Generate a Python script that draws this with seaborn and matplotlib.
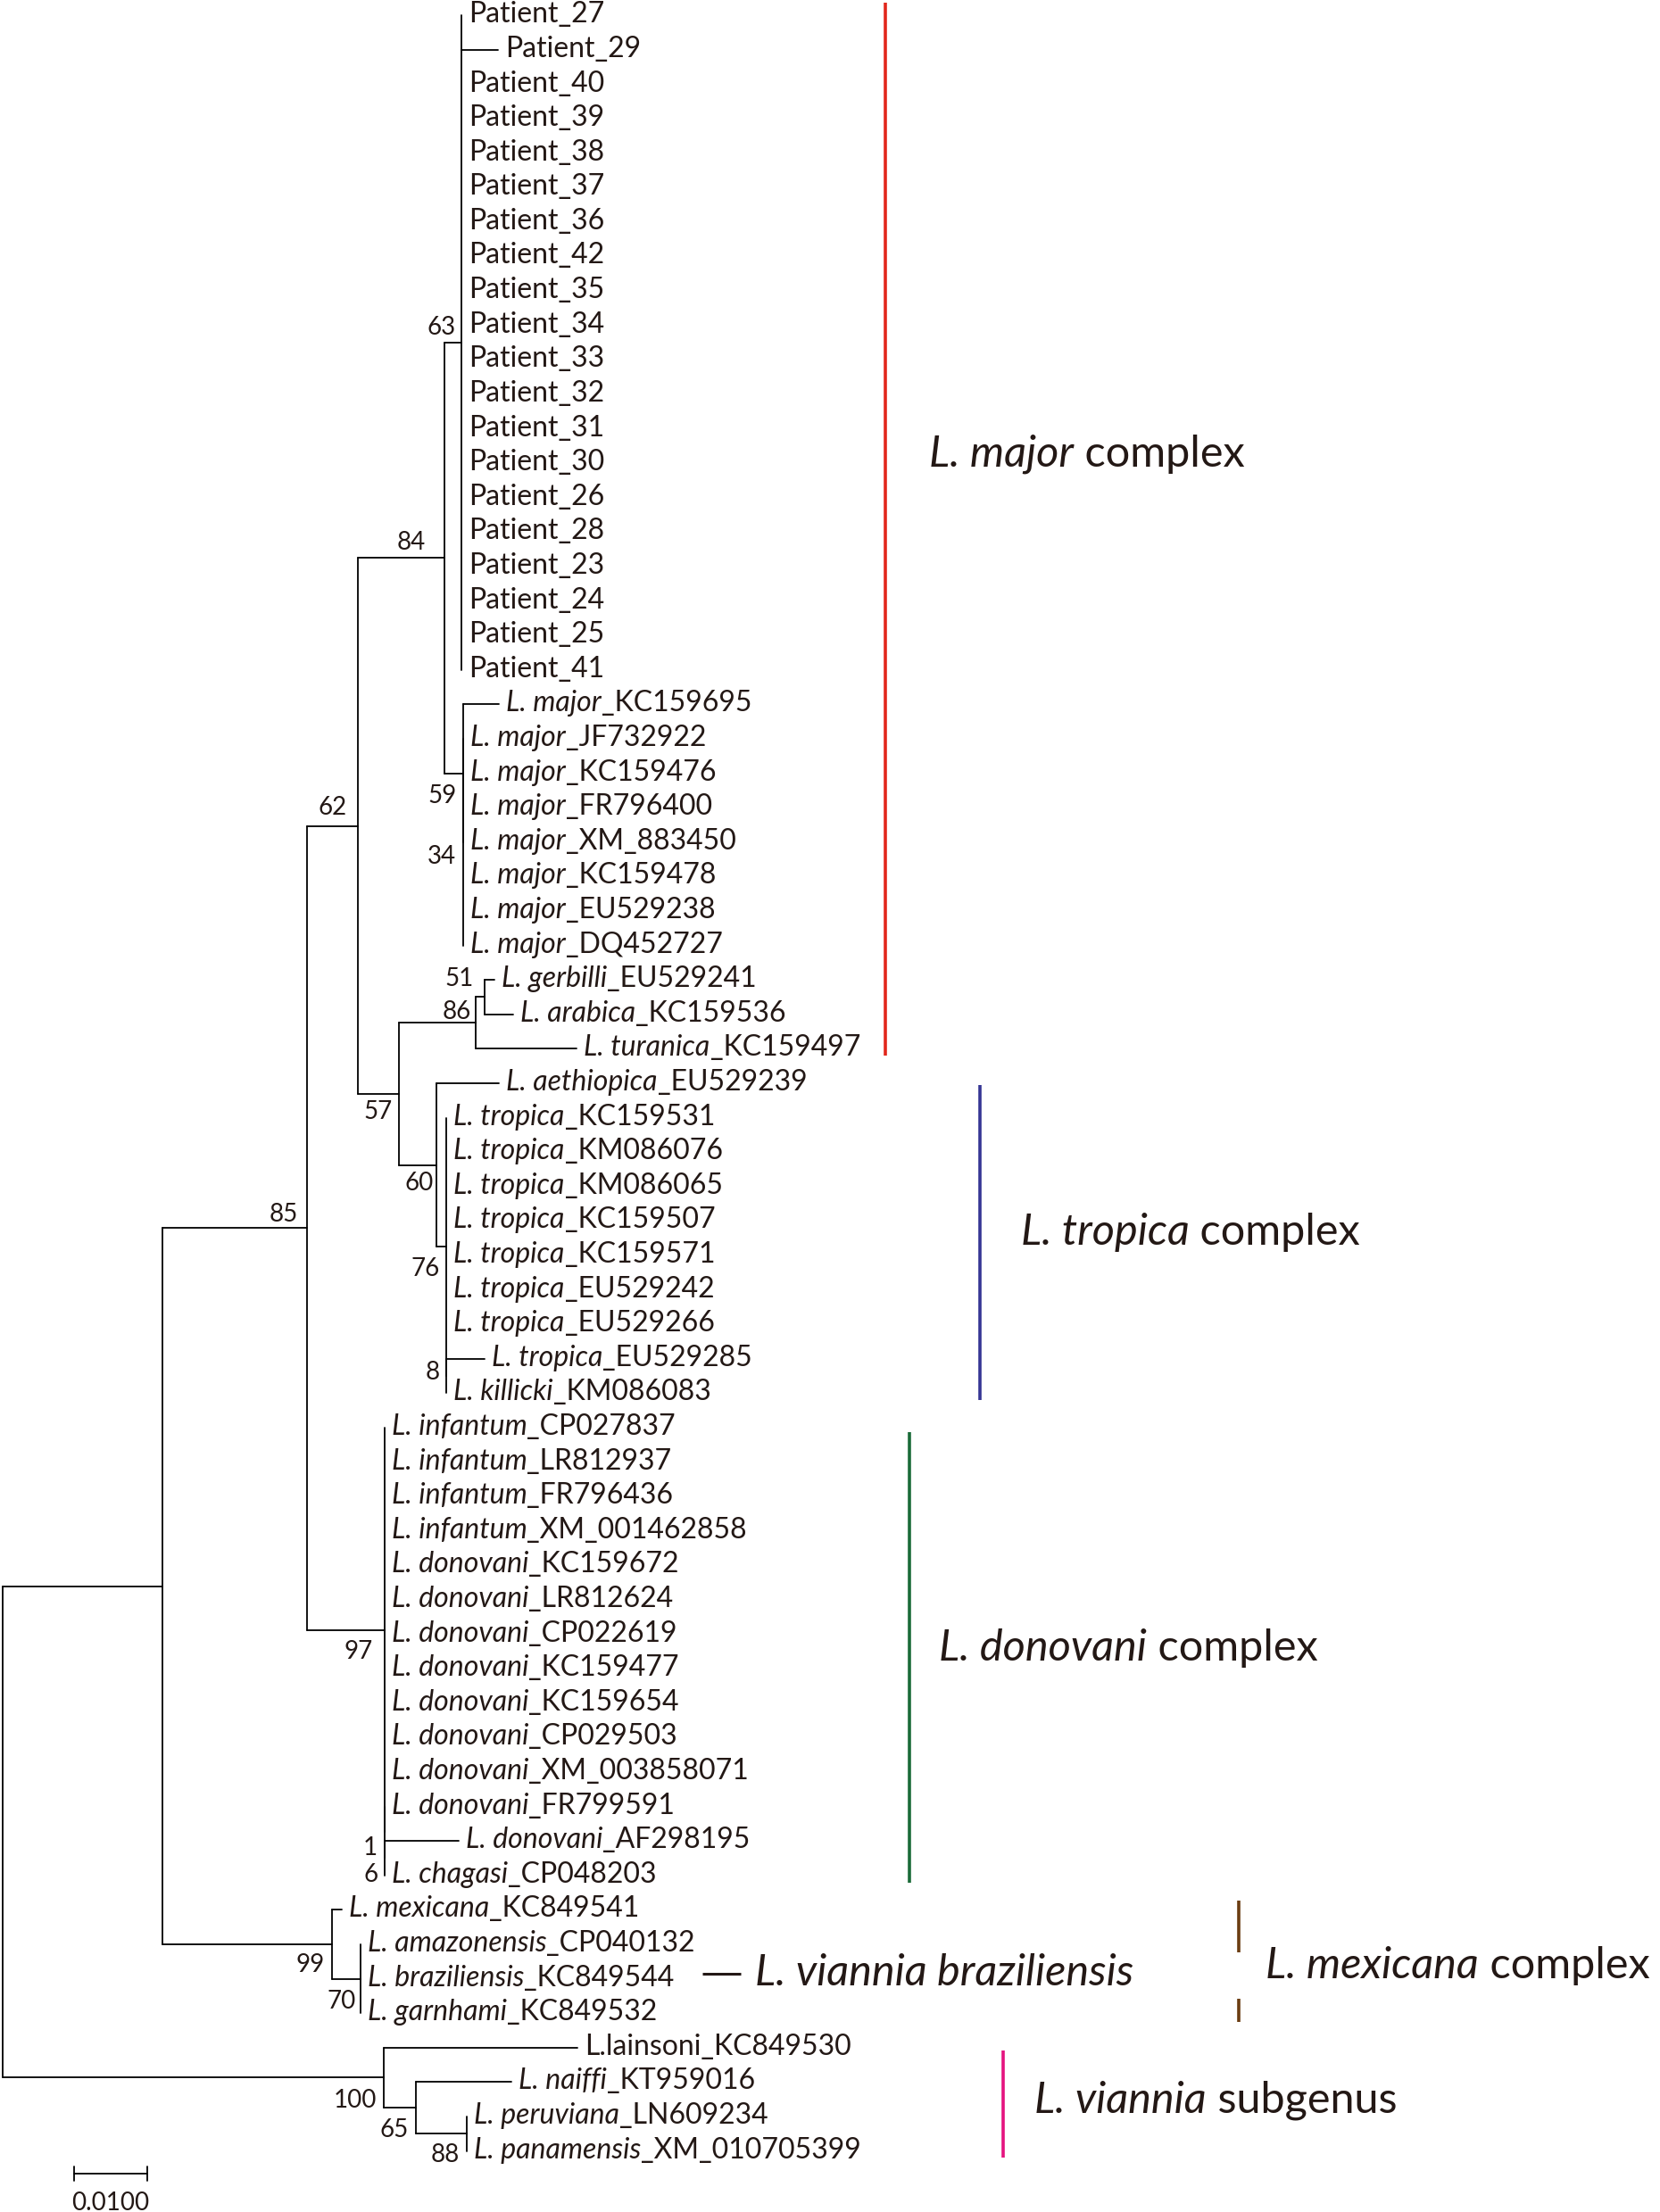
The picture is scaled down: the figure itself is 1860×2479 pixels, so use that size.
import numpy as np
import pandas as pd
import matplotlib
matplotlib.use("Agg")
import matplotlib.pyplot as plt
import seaborn as sns

# ---------------- data ----------------
tip_labels = [
    "Patient_27", "Patient_29", "Patient_40", "Patient_39", "Patient_38", "Patient_37",
    "Patient_36", "Patient_42", "Patient_35", "Patient_34", "Patient_33", "Patient_32",
    "Patient_31", "Patient_30", "Patient_26", "Patient_28", "Patient_23", "Patient_24",
    "Patient_25", "Patient_41",
    "L. major_KC159695", "L. major_JF732922", "L. major_KC159476", "L. major_FR796400",
    "L. major_XM_883450", "L. major_KC159478", "L. major_EU529238", "L. major_DQ452727",
    "L. gerbilli_EU529241", "L. arabica_KC159536", "L. turanica_KC159497",
    "L. aethiopica_EU529239", "L. tropica_KC159531", "L. tropica_KM086076",
    "L. tropica_KM086065", "L. tropica_KC159507", "L. tropica_KC159571",
    "L. tropica_EU529242", "L. tropica_EU529266", "L. tropica_EU529285", "L. killicki_KM086083",
    "L. infantum_CP027837", "L. infantum_LR812937", "L. infantum_FR796436",
    "L. infantum_XM_001462858", "L. donovani_KC159672", "L. donovani_LR812624",
    "L. donovani_CP022619", "L. donovani_KC159477", "L. donovani_KC159654",
    "L. donovani_CP029503", "L. donovani_XM_003858071", "L. donovani_FR799591",
    "L. donovani_AF298195", "L. chagasi_CP048203",
    "L. mexicana_KC849541", "L. amazonensis_CP040132", "L. braziliensis_KC849544",
    "L. garnhami_KC849532",
    "L.lainsoni_KC849530", "L. naiffi_KT959016", "L. peruviana_LN609234",
    "L. panamensis_XM_010705399",
]
tip_parent = (["n63"] * 20 + ["n59"] + ["n34"] * 7 + ["n51", "n51", "n86"] + ["n60"]
              + ["n76"] * 7 + ["n8", "n8"] + ["n97"] * 11 + ["nA1", "nA6", "nA6"]
              + ["n99"] + ["n70"] * 3 + ["n100", "n65", "n88", "n88"])
tip_length = ([0, 0.00503] + [0] * 18 + [0.00491] + [0] * 7
              + [0.00137, 0.00393, 0.01384] + [0.00865] + [0] * 7 + [0.00519, 0]
              + [0] * 11 + [0, 0.01017, 0] + [0.00134] + [0] * 3
              + [0.02660, 0.01314, 0, 0])

node_names = ["root", "nA", "n85", "n62", "n84", "n63", "n59", "n34", "n57", "n86", "n51",
              "n60", "n76", "n8", "n97", "nA1", "nA6", "n99", "n70", "n100", "n65", "n88"]
node_parent = [None, "root", "nA", "n85", "n62", "n84", "n84", "n59", "n62", "n57", "n86",
               "n57", "n60", "n76", "n85", "n97", "nA1", "nA", "n99", "root", "n100", "n65"]
node_length = [0, 0.02194, 0.01995, 0.00691, 0.01196, 0.00234, 0.00254, 0, 0.00571, 0.01058,
               0.00112, 0.00508, 0.00142, 0, 0.01058, 0, 0, 0.02331, 0.00391, 0.05245,
               0.00431, 0.00704]
node_support = ["", "", "85", "62", "84", "63", "59", "34", "57", "86", "51", "60", "76",
                "8", "97", "1", "6", "99", "70", "100", "65", "88"]

group_species = ["L. major", "L. tropica", "L. donovani", "L. mexicana", "L. viannia"]
group_suffix = [" complex", " complex", " complex", " complex", " subgenus"]
extra_label = "L. viannia braziliensis"
scale_value = 0.01
scale_text = "0.0100"

# ---------------- layout ----------------
W, H = 1860, 2479
PX, X0, ROW0, DROW = 8150.0, 3.0, 17.3, 38.6
FONT = ["Lato", "DejaVu Sans"]
TIP_FS, BOOT_FS, BIG_FS = 23, 20, 35

sns.set_theme(style="white")
plt.rcParams["font.family"] = FONT

fig = plt.figure(figsize=(W / 100, H / 100), dpi=100)
ax = fig.add_axes([0, 0, 1, 1])


def px(xp):
    return (xp - X0) / PX


def py(yp):
    return (yp - ROW0) / DROW


# node x positions
nx = {}
for n, p, L in zip(node_names, node_parent, node_length):
    nx[n] = 0.0 if p is None else nx[p] + L
tip_x = [nx[p] + L for p, L in zip(tip_parent, tip_length)]

# children lists
children = {n: [] for n in node_names}
for n, p in zip(node_names, node_parent):
    if p is not None:
        children[p].append(("node", n))
for i, p in enumerate(tip_parent):
    children[p].append(("tip", i))

ny = {}


def node_y(n):
    ys = []
    for kind, c in children[n]:
        ys.append(float(c) if kind == "tip" else node_y(c))
    ny[n] = (min(ys) + max(ys)) / 2
    ny[n + "_lo"] = min(ys)
    ny[n + "_hi"] = max(ys)
    return ny[n]


node_y("root")

# build segments
rows = []
sid = 0
for n, p in zip(node_names, node_parent):
    rows += [(nx[n], ny[n + "_lo"], sid), (nx[n], ny[n + "_hi"], sid)]
    sid += 1
    if p is not None and nx[n] > nx[p]:
        rows += [(nx[p], ny[n], sid), (nx[n], ny[n], sid)]
        sid += 1
for i, p in enumerate(tip_parent):
    if tip_x[i] > nx[p]:
        rows += [(nx[p], i, sid), (tip_x[i], i, sid)]
        sid += 1
seg = pd.DataFrame(rows, columns=["x", "y", "seg"])

sns.lineplot(data=seg, x="x", y="y", units="seg", estimator=None, sort=False,
             color="black", linewidth=1.3, ax=ax, legend=False)

ax.set_xlim(-X0 / PX, (W - X0) / PX)
ax.set_ylim((H - ROW0) / DROW, -ROW0 / DROW)
ax.axis("off")


def mixed(x, y, parts, size, dx=0.0, dy=0.0):
    prev = None
    for s, style in parts:
        if prev is None:
            prev = ax.annotate(s, xy=(x, y), xytext=(dx, dy), textcoords="offset pixels",
                               ha="left", va="center_baseline", fontsize=size,
                               fontstyle=style, color="#231815")
        else:
            prev = ax.annotate(s, xy=(1, 0), xycoords=prev, ha="left", va="bottom",
                               fontsize=size, fontstyle=style, color="#231815")


# tip labels
for i, lab in enumerate(tip_labels):
    if lab.startswith("L. "):
        k = lab.index("_")
        parts = [(lab[:k], "italic"), (lab[k:], "normal")]
    else:
        parts = [(lab, "normal")]
    mixed(tip_x[i], i, parts, TIP_FS, dx=8, dy=4)

# bootstrap labels (offsets in pixels: right edge dx, centre dy)
boot_off = {"n63": (-7, -20), "n84": (-21, -20), "n59": (-7, 23), "n34": (-8, 14),
            "n62": (-12, -23), "n51": (-12, -23), "n86": (-6, -15), "n57": (-8, 18),
            "n60": (-3, 18), "n76": (-7, 22), "n8": (-7, -7), "n85": (-11, -18),
            "n97": (-13, 22), "nA1": (-8, 15), "nA6": (-7, 16), "n99": (-8, 21),
            "n70": (-5, 23), "n100": (-8, 23), "n65": (-8, 22), "n88": (-8, 21)}
for n, s in zip(node_names, node_support):
    if not s:
        continue
    dx, dy = boot_off[n]
    ax.annotate(s, xy=(nx[n], ny[n]), xytext=(dx, -dy), textcoords="offset pixels",
                ha="right", va="center_baseline", fontsize=BOOT_FS, color="#231815")

# complex bars
bars = [("#E2271C", 991.7, 3, 1183), ("#353594", 1097.6, 1216, 1569),
        ("#1A6B38", 1018.5, 1605, 2110), ("#6B3D12", 1388, 2130, 2188),
        ("#6B3D12", 1388, 2240, 2266), ("#E5147F", 1124, 2298, 2418)]
for c, xp, y1, y2 in bars:
    ax.plot([px(xp), px(xp)], [py(y1), py(y2)], color=c, lw=2.6, solid_capstyle="butt")

# group labels
grp_pos = [(1041, 505), (1143.5, 1377), (1052, 1843), (1418.5, 2199), (1159, 2350)]
for sp, suf, (xp, yp) in zip(group_species, group_suffix, grp_pos):
    mixed(px(xp), py(yp), [(sp, "italic"), (suf, "normal")], BIG_FS)

# braziliensis pointer
ax.plot([px(787), px(830)], [py(2212), py(2212)], color="#231815", lw=2.2,
        solid_capstyle="butt")
mixed(px(846), py(2207), [(extra_label, "italic")], BIG_FS)

# scale bar
sx0 = px(83)
ax.plot([sx0, sx0 + scale_value], [py(2436), py(2436)], color="black", lw=1.3)
for xx in (sx0, sx0 + scale_value):
    ax.plot([xx, xx], [py(2428), py(2444)], color="black", lw=1.3)
ax.text(sx0 + scale_value / 2, py(2466), scale_text, ha="center", va="center_baseline",
        fontsize=BOOT_FS, color="#231815")

fig.savefig("out.png", dpi=100, facecolor="white")
